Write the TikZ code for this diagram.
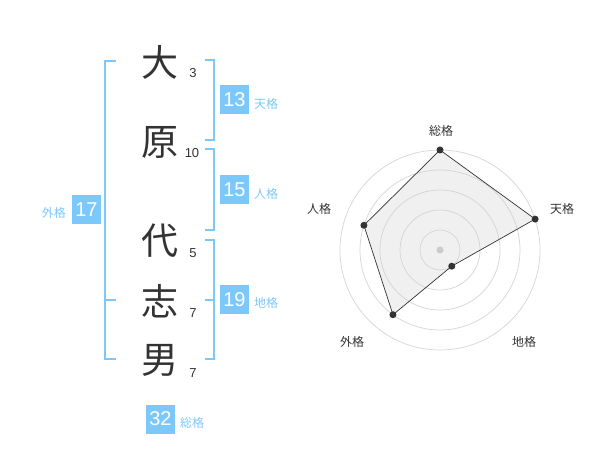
\documentclass[tikz,border=0pt]{standalone}
\usepackage{fontspec}
\setmainfont{Liberation Sans}
\newfontfamily\jp{Noto Sans CJK JP}
\usepackage{tikz}
\definecolor{skyblue}{RGB}{125,200,250}
\definecolor{inkgray}{RGB}{51,51,51}
\definecolor{ringgray}{RGB}{212,212,212}
\definecolor{fillgray}{RGB}{240,240,240}
\tikzset{
        kanji/.style={font=\jp\fontsize{37}{37}\selectfont,text=inkgray,inner sep=0pt},
        strokes/.style={font=\fontsize{13}{13}\selectfont,text=inkgray,inner sep=0pt},
        scorebox/.style={fill=skyblue,text=white,font=\fontsize{20}{20}\selectfont,minimum size=29pt,inner sep=0pt},
        kakulabel/.style={font=\jp\fontsize{12}{12}\selectfont,text=skyblue,inner sep=0pt},
        bracket/.style={draw=skyblue,line width=2pt},
        axislabel/.style={font=\jp\fontsize{12}{12}\selectfont,text=inkgray,inner sep=0pt},
        ring/.style={draw=ringgray,line width=0.7pt},
        dot/.style={circle,fill=inkgray,inner sep=0pt,minimum size=7pt}
}

\begin{document}
\begin{tikzpicture}[x=1pt,y=-1pt]
        \useasboundingbox (0,0) rectangle (600,470);

        \node[kanji] (dai) at (160,62) {大};
        \node[kanji] (hara) at (160,142) {原};
        \node[kanji] (yo) at (160,241) {代};
        \node[kanji] (shi) at (160,301) {志};
        \node[kanji] (o) at (160,360) {男};

        \node[strokes] (n3) at (193,73) {3};
        \node[strokes] (n10) at (192,153) {10};
        \node[strokes] (n5) at (193,253) {5};
        \node[strokes] (n7a) at (193,313) {7};
        \node[strokes] (n7b) at (193,373) {7};

        \draw[bracket] (116,61) -- (105,61) -- (105,359) -- (116,359);
        \draw[bracket] (105,300) -- (116,300);
        \draw[bracket] (205,60) -- (214,60) -- (214,140) -- (205,140);
        \draw[bracket] (205,149) -- (214,149) -- (214,230) -- (205,230);
        \draw[bracket] (205,240) -- (214,240) -- (214,359) -- (205,359);
        \draw[bracket] (205,300) -- (214,300);

        \node[scorebox] (ten) at (234.5,100) {13};
        \node[kakulabel,anchor=west] (tenl) at (254,104) {天格};
        \node[scorebox] (jin) at (234.5,190) {15};
        \node[kakulabel,anchor=west] (jinl) at (254,194) {人格};
        \node[scorebox] (gai) at (86.5,210) {17};
        \node[kakulabel,anchor=east] (gail) at (66,213) {外格};
        \node[scorebox] (chi) at (234.5,300) {19};
        \node[kakulabel,anchor=west] (chil) at (254,303) {地格};
        \node[scorebox] (sou) at (160.5,419) {32};
        \node[kakulabel,anchor=west] (soul) at (180,423) {総格};

        \coordinate (c) at (440,250);
        \path (c) ++(-90:100) coordinate (rsou);
        \path (c) ++(-18:100) coordinate (rten);
        \path (c) ++(54:20) coordinate (rchi);
        \path (c) ++(126:80) coordinate (rgai);
        \path (c) ++(198:80) coordinate (rjin);

        \fill[fillgray] (rsou) -- (rten) -- (rchi) -- (rgai) -- (rjin) -- cycle;
        \foreach \r in {20,40,60,80,100}
                \draw[ring] (c) circle (\r);
        \fill[ringgray!90!gray] (c) circle (3.5);
        \draw[inkgray,line width=0.7pt] (rsou) -- (rten) -- (rchi) -- (rgai) -- (rjin) -- cycle;
        \foreach \p in {rsou,rten,rchi,rgai,rjin}
                \node[dot] (\p dot) at (\p) {};

        \node[axislabel] (asou) at (441,131) {総格};
        \node[axislabel] (aten) at (562,209) {天格};
        \node[axislabel] (ajin) at (319,209) {人格};
        \node[axislabel] (agai) at (352,342) {外格};
        \node[axislabel] (achi) at (524,342) {地格};
\end{tikzpicture}
\end{document}
